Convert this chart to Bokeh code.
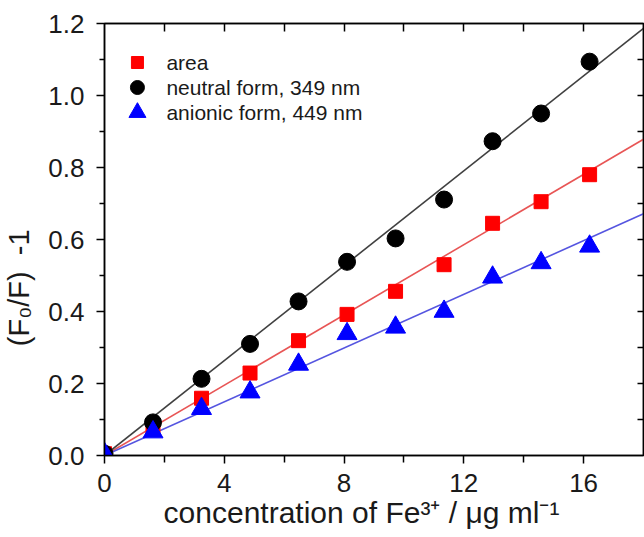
import numpy as np
from bokeh.plotting import figure
from bokeh.models import LinearAxis, Range1d, Label, FixedTicker, PrintfTickFormatter
from bokeh.embed import file_html
from bokeh.resources import INLINE

# ---------------- data ----------------
conc = [0.0, 1.62, 3.24, 4.86, 6.48, 8.10, 9.72, 11.34, 12.96, 14.58, 16.20]
area = [0.005, 0.080, 0.159, 0.229, 0.319, 0.392, 0.456, 0.530, 0.645, 0.705, 0.780]
neutral = [0.005, 0.092, 0.213, 0.310, 0.428, 0.538, 0.603, 0.711, 0.873, 0.950, 1.094]
anionic = [0.005, 0.065, 0.130, 0.176, 0.253, 0.338, 0.356, 0.400, 0.495, 0.535, 0.581]
series_labels = ["area", "neutral form, 349 nm", "anionic form, 449 nm"]
fit_slopes = [0.0488, 0.0659, 0.0373]   # area, neutral, anionic (lines through origin)
x_ticks = [0, 4, 8, 12, 16]
x_minor = [2, 6, 10, 14]
y_ticks = [0.0, 0.2, 0.4, 0.6, 0.8, 1.0, 1.2]
y_minor = [0.1, 0.3, 0.5, 0.7, 0.9, 1.1]
top_ticks = [2, 4, 6, 8, 10, 12, 14, 16]
right_ticks = [0.1, 0.2, 0.3, 0.4, 0.5, 0.6, 0.7, 0.8, 0.9, 1.0, 1.1]
x_title = "concentration of Fe\u00b3\u207a / \u03bcg ml\u207b\u00b9"
y_title = "(F\u2080/F)\u00a0\u00a0-1"

FONT = "Liberation Sans"
TXT = "#1a1a1a"
NBSP = "\u00a0"
X0, X1, Y0, Y1 = 0.0, 18.0, 0.0, 1.2
L, R, T, B = 103, 643, 23, 455   # frame edges in pixels


def fx(px):
    return X0 + (px - L) / (R - L) * (X1 - X0)


def fy(py):
    return Y0 + (B - py) / (B - T) * (Y1 - Y0)


p = figure(width=644, height=537, x_range=Range1d(X0, X1), y_range=Range1d(Y0, Y1),
           output_backend="svg", toolbar_location=None,
           min_border_left=L, min_border_right=644 - R, min_border_top=T, min_border_bottom=537 - B)
p.grid.visible = False
p.outline_line_color = "black"
p.outline_line_width = 1.5
p.background_fill_color = "white"
p.border_fill_color = "white"

# bottom axis
xa = p.xaxis[0]
xa.ticker = FixedTicker(ticks=x_ticks, minor_ticks=x_minor)
xa.major_tick_out = 8
xa.major_tick_in = 0
xa.minor_tick_out = 7
xa.minor_tick_in = 0
xa.major_label_standoff = 10
xa.major_label_text_font = FONT
xa.major_label_text_font_size = "26px"
xa.major_label_text_color = TXT
xa.axis_line_width = 1.5
xa.major_tick_line_width = 1.5
xa.minor_tick_line_width = 1.5
# trailing no-break spaces shift the centred title slightly to the left, as in the reference
xa.axis_label = x_title + NBSP * 3
xa.axis_label_text_font = FONT
xa.axis_label_text_font_size = "30px"
xa.axis_label_text_font_style = "normal"
xa.axis_label_text_color = TXT
xa.axis_label_standoff = 1

# left axis
ya = p.yaxis[0]
ya.ticker = FixedTicker(ticks=y_ticks, minor_ticks=y_minor)
ya.formatter = PrintfTickFormatter(format="%.1f")
ya.major_tick_out = 8
ya.major_tick_in = 0
ya.minor_tick_out = 5
ya.minor_tick_in = 0
ya.major_label_standoff = 12
ya.major_label_text_font = FONT
ya.major_label_text_font_size = "26px"
ya.major_label_text_color = TXT
ya.axis_line_width = 1.5
ya.major_tick_line_width = 1.5
ya.minor_tick_line_width = 1.5
# trailing no-break spaces move the visible title down the axis, as in the reference
ya.axis_label = y_title + NBSP * 12
ya.axis_label_text_font = FONT
ya.axis_label_text_font_size = "29px"
ya.axis_label_text_font_style = "normal"
ya.axis_label_text_color = TXT
ya.axis_label_standoff = 10

# top and right frame axes (ticks inside, no labels)
top = LinearAxis(ticker=FixedTicker(ticks=top_ticks), major_tick_in=8, major_tick_out=0,
                 minor_tick_in=0, minor_tick_out=0, major_label_text_font_size="0px",
                 major_label_text_color=None, major_label_standoff=0,
                 axis_line_width=1.5, major_tick_line_width=1.5)
p.add_layout(top, "above")
right = LinearAxis(ticker=FixedTicker(ticks=right_ticks), major_tick_in=6, major_tick_out=0,
                   minor_tick_in=0, minor_tick_out=0, major_label_text_font_size="0px",
                   major_label_text_color=None, major_label_standoff=0,
                   axis_line_width=1.5, major_tick_line_width=1.5)
p.add_layout(right, "right")

# fit lines
line_colors = ["#e85555", "#404040", "#5555e0"]
xs_fit = np.array([X0, X1])
for slope, col in zip(fit_slopes, line_colors):
    p.line(x=xs_fit, y=slope * xs_fit, line_color=col, line_width=1.6)

# data markers
p.scatter(x=conc, y=area, marker="square", size=14, fill_color="#ff0000", line_color="#ff0000")
p.scatter(x=conc, y=neutral, marker="circle", size=17, fill_color="#000000", line_color="#000000")
p.scatter(x=conc, y=anionic, marker="triangle", size=20, fill_color="#0000ff", line_color="#0000ff")

# manual legend (inside the frame, top-left)
leg_rows = [62, 87, 112]
leg_specs = [("square", 12, "#ff0000"), ("circle", 14, "#000000"), ("triangle", 17, "#0000ff")]
for (mk, sz, col), row, lab in zip(leg_specs, leg_rows, series_labels):
    p.scatter(x=[fx(136)], y=[fy(row)], marker=mk, size=sz, fill_color=col, line_color=col)
    p.add_layout(Label(x=fx(165), y=fy(row), text=lab, text_font=FONT, text_font_size="21px",
                       text_color=TXT, text_baseline="middle", text_align="left"))

open("out.html", "w").write(file_html(p, INLINE))
